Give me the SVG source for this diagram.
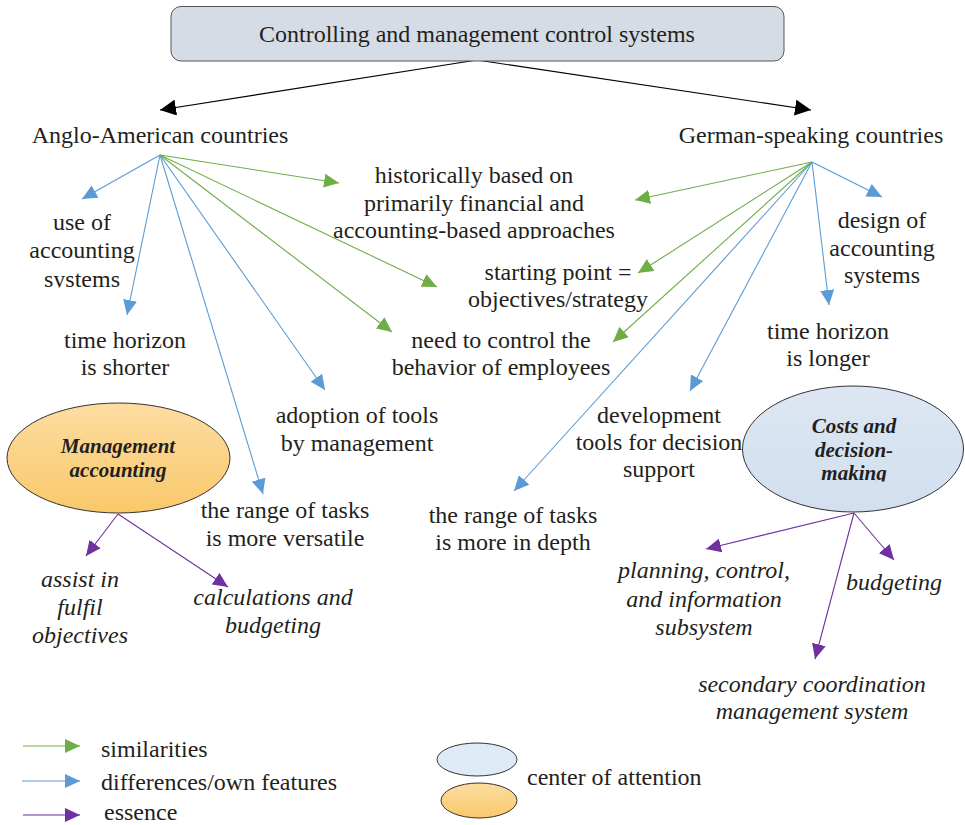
<svg xmlns="http://www.w3.org/2000/svg" width="965" height="825" viewBox="0 0 965 825" font-family="'Liberation Serif','Times New Roman','DejaVu Serif',serif">
<defs>
<marker id="ag" markerUnits="userSpaceOnUse" markerWidth="16" markerHeight="14" refX="15" refY="7" orient="auto"><path d="M0,0 L15,7 L0,14 Z" fill="#70AD47"/></marker>
<marker id="ab" markerUnits="userSpaceOnUse" markerWidth="16" markerHeight="14" refX="15" refY="7" orient="auto"><path d="M0,0 L15,7 L0,14 Z" fill="#5B9BD5"/></marker>
<marker id="ap" markerUnits="userSpaceOnUse" markerWidth="16" markerHeight="14" refX="15" refY="7" orient="auto"><path d="M0,0 L15,7 L0,14 Z" fill="#7030A0"/></marker>
<marker id="ak" markerUnits="userSpaceOnUse" markerWidth="17" markerHeight="16" refX="16" refY="8" orient="auto"><path d="M0,0 L16,8 L0,16 Z" fill="#000"/></marker>
<linearGradient id="gOr" x1="0" y1="0" x2="0" y2="1"><stop offset="0" stop-color="#FDDDA2"/><stop offset="1" stop-color="#F9C86A"/></linearGradient>
<linearGradient id="gBl" x1="0" y1="0" x2="0" y2="1"><stop offset="0" stop-color="#DDE7F3"/><stop offset="1" stop-color="#D2DFEF"/></linearGradient>
<clipPath id="clipHist"><rect x="300" y="150" width="360" height="89"/></clipPath>
<clipPath id="clipUse"><rect x="10" y="200" width="150" height="87.5"/></clipPath>
<clipPath id="clipCosts"><rect x="760" y="400" width="190" height="81.5"/></clipPath>
</defs>
<style>
.t{font-family:'Liberation Serif','Times New Roman','DejaVu Serif',serif;font-size:24px;fill:#231F20;text-anchor:middle}
.s{text-anchor:start}
.i{font-style:italic}
.bi{font-weight:bold;font-style:italic;font-size:21px}
.l{fill:none;stroke-width:1.1}
.g{stroke:#70AD47;marker-end:url(#ag)}
.b{stroke:#5B9BD5;marker-end:url(#ab)}
.p{stroke:#7030A0;marker-end:url(#ap)}
.k{stroke:#000;marker-end:url(#ak)}
.el{stroke:#333;stroke-width:1}
</style>
<rect width="965" height="825" fill="#fff"/>

<g id="connectors">
<path class="l k" d="M477,60 L160,110"/>
<path class="l k" d="M477,60 L811,110"/>
<path class="l b" d="M160,155 L82,199"/>
<path class="l b" d="M160,155 L127,315"/>
<path class="l b" d="M160,155 L263,494"/>
<path class="l b" d="M160,155 L325,390"/>
<path class="l g" d="M160,155 L339,183"/>
<path class="l g" d="M160,155 L437,287"/>
<path class="l g" d="M160,155 L392,332"/>
<path class="l g" d="M812,162 L635,200"/>
<path class="l g" d="M812,162 L638,273"/>
<path class="l g" d="M812,162 L613,342"/>
<path class="l b" d="M812,162 L882,197"/>
<path class="l b" d="M812,162 L829,305"/>
<path class="l b" d="M812,162 L690,391"/>
<path class="l b" d="M812,162 L514,491"/>
<path class="l p" d="M118,514 L86,556"/>
<path class="l p" d="M118,514 L228,587"/>
<path class="l p" d="M854,513 L706,549"/>
<path class="l p" d="M854,513 L894,560"/>
<path class="l p" d="M854,513 L815,659"/>
</g>

<g id="root">
<rect x="171" y="6.5" width="613" height="54.5" rx="10" fill="#D6DCE5" stroke="#555" stroke-width="1"/>
<text class="t" x="477" y="42">Controlling and management control systems</text>
</g>
<g id="anglo"><text class="t" x="160" y="143">Anglo-American countries</text></g>
<g id="german"><text class="t" x="811" y="143">German-speaking countries</text></g>

<g id="use-accounting" clip-path="url(#clipUse)">
<text class="t" x="82" y="230">use of</text>
<text class="t" x="82" y="258">accounting</text>
<text class="t" x="82" y="287">systems</text>
</g>
<g id="time-shorter">
<text class="t" x="125" y="348">time horizon</text>
<text class="t" x="125" y="375">is shorter</text>
</g>
<g id="adoption">
<text class="t" x="357" y="423">adoption of tools</text>
<text class="t" x="357" y="451">by management</text>
</g>
<g id="range-versatile">
<text class="t" x="285" y="518">the range of tasks</text>
<text class="t" x="285" y="546">is more versatile</text>
</g>
<g id="historically" clip-path="url(#clipHist)">
<text class="t" x="474" y="183">historically based on</text>
<text class="t" x="474" y="211">primarily financial and</text>
<text class="t" x="474" y="238">accounting-based approaches</text>
</g>
<g id="starting-point">
<text class="t" x="558" y="280">starting point =</text>
<text class="t" x="558" y="307">objectives/strategy</text>
</g>
<g id="need-control">
<text class="t" x="501" y="348">need to control the</text>
<text class="t" x="501" y="375">behavior of employees</text>
</g>
<g id="design-accounting">
<text class="t" x="882" y="228">design of</text>
<text class="t" x="882" y="256">accounting</text>
<text class="t" x="882" y="283">systems</text>
</g>
<g id="time-longer">
<text class="t" x="828" y="339">time horizon</text>
<text class="t" x="828" y="366">is longer</text>
</g>
<g id="development">
<text class="t" x="659" y="423">development</text>
<text class="t" x="659" y="450">tools for decision</text>
<text class="t" x="659" y="477">support</text>
</g>
<g id="range-depth">
<text class="t" x="513" y="523">the range of tasks</text>
<text class="t" x="513" y="550">is more in depth</text>
</g>

<g id="management-accounting">
<ellipse cx="118.5" cy="458" rx="111.5" ry="55" fill="url(#gOr)" class="el"/>
<text class="t bi" x="118" y="453">Management</text>
<text class="t bi" x="118" y="477">accounting</text>
</g>
<g id="costs-decision">
<ellipse cx="853" cy="449" rx="110.5" ry="63" fill="url(#gBl)" class="el"/>
<g clip-path="url(#clipCosts)">
<text class="t bi" x="854" y="433">Costs and</text>
<text class="t bi" x="854" y="457">decision-</text>
<text class="t bi" x="854" y="480">making</text>
</g>
</g>

<g id="assist">
<text class="t i" x="80" y="587">assist in</text>
<text class="t i" x="80" y="615">fulfil</text>
<text class="t i" x="80" y="643">objectives</text>
</g>
<g id="calculations">
<text class="t i" x="273" y="605">calculations and</text>
<text class="t i" x="273" y="633">budgeting</text>
</g>
<g id="planning">
<text class="t i" x="704" y="578">planning, control,</text>
<text class="t i" x="704" y="607">and information</text>
<text class="t i" x="704" y="635">subsystem</text>
</g>
<g id="budgeting"><text class="t i" x="894" y="590">budgeting</text></g>
<g id="secondary">
<text class="t i" x="812" y="692">secondary coordination</text>
<text class="t i" x="812" y="719">management system</text>
</g>

<g id="legend">
<path class="l g" d="M23,746 H80"/>
<path class="l b" d="M22,781 H80"/>
<path class="l p" d="M23,815 H80"/>
<text class="t s" x="101" y="757">similarities</text>
<text class="t s" x="101" y="790">differences/own features</text>
<text class="t s" x="104" y="820">essence</text>
<ellipse cx="477" cy="759.5" rx="40" ry="16.5" fill="#DEEBF7" class="el"/>
<ellipse cx="479" cy="800.5" rx="38" ry="17.5" fill="url(#gOr)" class="el"/>
<text class="t s" x="527" y="785">center of attention</text>
</g>
</svg>
